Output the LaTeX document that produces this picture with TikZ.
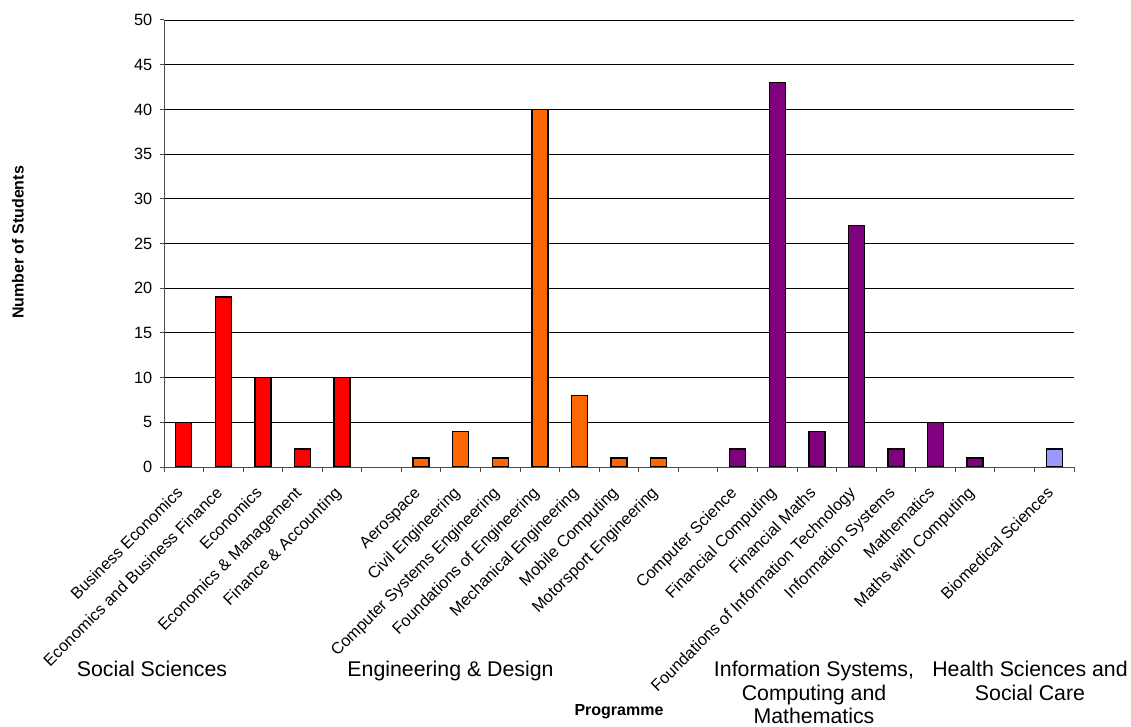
\documentclass[tikz,border=0pt]{standalone}
\usepackage{fontspec}
\setmainfont{Liberation Sans}
\definecolor{cSS}{HTML}{FF0000}
\definecolor{cED}{HTML}{FF6600}
\definecolor{cIS}{HTML}{800080}
\definecolor{cHS}{HTML}{9999FF}
\begin{document}
\begin{tikzpicture}[x=1pt,y=-1pt,
  grid/.style={draw=black,line width=0.9pt},
  axisline/.style={draw=black!70,line width=1pt},
  barbox/.style={draw=black,line width=1.4pt},
  ylab/.style={anchor=east,inner sep=0pt,font=\fontsize{16.3}{19}\selectfont},
  catlab/.style={anchor=base east,inner sep=0pt,rotate=45,font=\fontsize{16.3}{19}\selectfont},
  grplab/.style={anchor=north,inner sep=0pt,align=center,font=\fontsize{21.3}{23.5}\selectfont},
  axtitle/.style={inner sep=0pt,font=\fontsize{16}{19}\selectfont\bfseries}]
\useasboundingbox (0,0) rectangle (1131,727);
\def\xo{164}\def\cw{39.565}\def\yo{467}\def\yu{8.94}
% gridlines
\foreach \k in {1,...,10}
  \draw[grid] (\xo,{\yo-\yu*5*\k}) -- (1074,{\yo-\yu*5*\k});
% y labels and ticks
\foreach \k in {0,...,10}{
  \pgfmathtruncatemacro{\lab}{5*\k}
  \draw[axisline] (159.5,{\yo-\yu*5*\k}) -- (\xo,{\yo-\yu*5*\k});
  \node[ylab] (yl\k) at (152.5,{\yo-\yu*5*\k}) {\lab};
}
% x ticks
\foreach \i in {0,...,23}
  \draw[axisline] ({\xo+\cw*\i},\yo) -- ({\xo+\cw*\i},472);
% bars
\foreach \i/\v/\c in {0/5/cSS,1/19/cSS,2/10/cSS,3/2/cSS,4/10/cSS,
  6/1/cED,7/4/cED,8/1/cED,9/40/cED,10/8/cED,11/1/cED,12/1/cED,
  14/2/cIS,15/43/cIS,16/4/cIS,17/27/cIS,18/2/cIS,19/5/cIS,20/1/cIS,
  22/2/cHS}
  \draw[barbox,fill=\c] ({\xo+\cw*(\i+0.5)-8},\yo) rectangle ({\xo+\cw*(\i+0.5)+8},{\yo-\yu*\v});
% axes
\draw[axisline] (\xo,20) -- (\xo,\yo) -- (1074,\yo);
% category labels
\foreach \i/\t in {0/Business Economics,1/Economics and Business Finance,2/Economics,
  3/Economics \& Management,4/Finance \& Accounting,
  6/Aerospace,7/Civil Engineering,8/Computer Systems Engineering,9/Foundations of Engineering,
  10/Mechanical Engineering,11/Mobile Computing,12/Motorsport Engineering,
  14/Computer Science,15/Financial Computing,16/Financial Maths,
  17/Foundations of Information Technology,18/Information Systems,19/Mathematics,
  20/Maths with Computing,22/Biomedical Sciences}
  \node[catlab] (cat\i) at ({\xo+\cw*(\i+0.5)},494) {\t};
% group labels
\node[grplab] (gSS) at (152,661) {Social Sciences};
\node[grplab] (gED) at (450.5,661) {Engineering \& Design};
\node[grplab] (gIS) at (814,661) {Information Systems,\\Computing and\\Mathematics};
\node[grplab] (gHS) at (1030,661) {Health Sciences and\\Social Care};
% axis titles
\node[axtitle,anchor=base] (xt) at (619,715) {Programme};
\node[axtitle,rotate=90] (yt) at (18,242.5) {Number of Students};
\end{tikzpicture}
\end{document}
